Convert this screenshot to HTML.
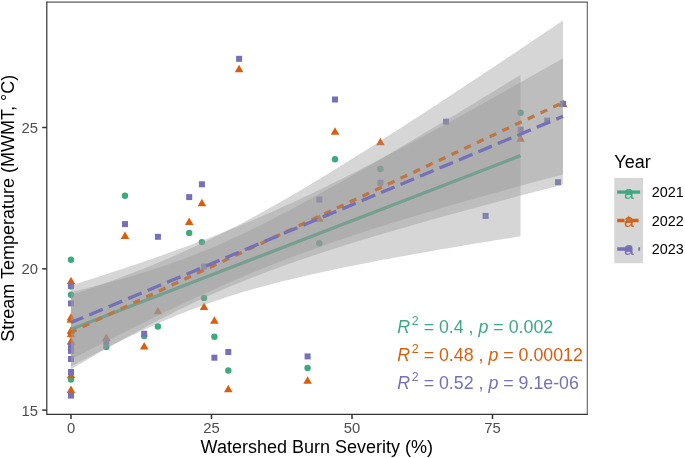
<!DOCTYPE html>
<html><head><meta charset="utf-8"><title>Stream Temperature vs Watershed Burn Severity</title>
<style>
html,body{margin:0;padding:0;background:#fff;}
body{width:685px;height:458px;overflow:hidden;}
svg{display:block;font-family:"Liberation Sans",Arial,Helvetica,sans-serif;opacity:0.999;will-change:transform;}
</style></head><body>
<svg width="685" height="458" viewBox="0 0 685 458">
<rect width="685" height="458" fill="#fff"/>
<g>
<circle cx="71.0" cy="259.7" r="3.20" fill="#3caa80"/>
<circle cx="71.0" cy="286.4" r="3.20" fill="#3caa80"/>
<circle cx="71.0" cy="294.8" r="3.20" fill="#3caa80"/>
<circle cx="71.0" cy="334.2" r="3.20" fill="#3caa80"/>
<circle cx="71.0" cy="349.5" r="3.20" fill="#3caa80"/>
<circle cx="71.0" cy="379.6" r="3.20" fill="#3caa80"/>
<circle cx="106.3" cy="346.9" r="3.20" fill="#3caa80"/>
<circle cx="125.0" cy="195.8" r="3.20" fill="#3caa80"/>
<circle cx="144.2" cy="336.1" r="3.20" fill="#3caa80"/>
<circle cx="157.9" cy="326.5" r="3.20" fill="#3caa80"/>
<circle cx="189.2" cy="232.9" r="3.20" fill="#3caa80"/>
<circle cx="201.9" cy="242.1" r="3.20" fill="#3caa80"/>
<circle cx="204.0" cy="297.9" r="3.20" fill="#3caa80"/>
<circle cx="214.4" cy="336.8" r="3.20" fill="#3caa80"/>
<circle cx="228.3" cy="370.5" r="3.20" fill="#3caa80"/>
<circle cx="307.6" cy="368.0" r="3.20" fill="#3caa80"/>
<circle cx="319.3" cy="243.2" r="3.20" fill="#3caa80"/>
<circle cx="335.0" cy="159.3" r="3.20" fill="#3caa80"/>
<circle cx="380.4" cy="169.0" r="3.20" fill="#3caa80"/>
<circle cx="520.6" cy="112.8" r="3.20" fill="#3caa80"/>
<path d="M71.00,276.87 L75.31,284.33 L66.69,284.33Z" fill="#d95f0e"/>
<path d="M71.00,312.97 L75.31,320.43 L66.69,320.43Z" fill="#d95f0e"/>
<path d="M71.00,315.17 L75.31,322.63 L66.69,322.63Z" fill="#d95f0e"/>
<path d="M71.00,326.37 L75.31,333.83 L66.69,333.83Z" fill="#d95f0e"/>
<path d="M71.00,329.77 L75.31,337.23 L66.69,337.23Z" fill="#d95f0e"/>
<path d="M71.00,337.07 L75.31,344.53 L66.69,344.53Z" fill="#d95f0e"/>
<path d="M71.00,370.77 L75.31,378.23 L66.69,378.23Z" fill="#d95f0e"/>
<path d="M71.00,385.47 L75.31,392.93 L66.69,392.93Z" fill="#d95f0e"/>
<path d="M106.30,333.57 L110.61,341.03 L101.99,341.03Z" fill="#d95f0e"/>
<path d="M125.00,231.47 L129.31,238.93 L120.69,238.93Z" fill="#d95f0e"/>
<path d="M144.20,341.97 L148.51,349.43 L139.89,349.43Z" fill="#d95f0e"/>
<path d="M157.90,306.67 L162.21,314.13 L153.59,314.13Z" fill="#d95f0e"/>
<path d="M189.20,217.57 L193.51,225.03 L184.89,225.03Z" fill="#d95f0e"/>
<path d="M201.90,198.87 L206.21,206.33 L197.59,206.33Z" fill="#d95f0e"/>
<path d="M204.00,302.57 L208.31,310.03 L199.69,310.03Z" fill="#d95f0e"/>
<path d="M214.40,316.27 L218.71,323.73 L210.09,323.73Z" fill="#d95f0e"/>
<path d="M228.30,384.77 L232.61,392.23 L223.99,392.23Z" fill="#d95f0e"/>
<path d="M239.10,64.87 L243.41,72.33 L234.79,72.33Z" fill="#d95f0e"/>
<path d="M307.60,376.27 L311.91,383.73 L303.29,383.73Z" fill="#d95f0e"/>
<path d="M319.30,214.17 L323.61,221.63 L314.99,221.63Z" fill="#d95f0e"/>
<path d="M335.00,127.37 L339.31,134.83 L330.69,134.83Z" fill="#d95f0e"/>
<path d="M380.40,137.87 L384.71,145.33 L376.09,145.33Z" fill="#d95f0e"/>
<path d="M520.60,134.27 L524.91,141.73 L516.29,141.73Z" fill="#d95f0e"/>
<path d="M563.10,99.47 L567.41,106.93 L558.79,106.93Z" fill="#d95f0e"/>
<rect x="68.00" y="282.80" width="6.00" height="6.00" fill="#7570b8"/>
<rect x="68.00" y="300.40" width="6.00" height="6.00" fill="#7570b8"/>
<rect x="68.00" y="342.70" width="6.00" height="6.00" fill="#7570b8"/>
<rect x="68.00" y="347.90" width="6.00" height="6.00" fill="#7570b8"/>
<rect x="68.00" y="356.00" width="6.00" height="6.00" fill="#7570b8"/>
<rect x="68.00" y="369.00" width="6.00" height="6.00" fill="#7570b8"/>
<rect x="68.00" y="392.60" width="6.00" height="6.00" fill="#7570b8"/>
<rect x="103.30" y="338.60" width="6.00" height="6.00" fill="#7570b8"/>
<rect x="122.00" y="221.10" width="6.00" height="6.00" fill="#7570b8"/>
<rect x="141.20" y="330.70" width="6.00" height="6.00" fill="#7570b8"/>
<rect x="154.90" y="233.80" width="6.00" height="6.00" fill="#7570b8"/>
<rect x="186.20" y="194.10" width="6.00" height="6.00" fill="#7570b8"/>
<rect x="198.90" y="181.30" width="6.00" height="6.00" fill="#7570b8"/>
<rect x="201.00" y="263.50" width="6.00" height="6.00" fill="#7570b8"/>
<rect x="211.40" y="354.70" width="6.00" height="6.00" fill="#7570b8"/>
<rect x="225.30" y="349.00" width="6.00" height="6.00" fill="#7570b8"/>
<rect x="236.10" y="55.80" width="6.00" height="6.00" fill="#7570b8"/>
<rect x="304.60" y="353.40" width="6.00" height="6.00" fill="#7570b8"/>
<rect x="316.30" y="196.70" width="6.00" height="6.00" fill="#7570b8"/>
<rect x="332.00" y="96.50" width="6.00" height="6.00" fill="#7570b8"/>
<rect x="377.40" y="179.80" width="6.00" height="6.00" fill="#7570b8"/>
<rect x="443.10" y="118.70" width="6.00" height="6.00" fill="#7570b8"/>
<rect x="482.60" y="212.90" width="6.00" height="6.00" fill="#7570b8"/>
<rect x="517.60" y="126.60" width="6.00" height="6.00" fill="#7570b8"/>
<rect x="544.20" y="117.60" width="6.00" height="6.00" fill="#7570b8"/>
<rect x="555.00" y="179.20" width="6.00" height="6.00" fill="#7570b8"/>
<rect x="560.10" y="100.80" width="6.00" height="6.00" fill="#7570b8"/>
</g>
<path d="M71.0,292.1 L76.1,290.9 L81.1,289.6 L86.2,288.4 L91.2,287.1 L96.3,285.8 L101.3,284.5 L106.4,283.2 L111.4,281.8 L116.5,280.4 L121.5,279.0 L126.6,277.6 L131.6,276.1 L136.7,274.6 L141.7,273.1 L146.8,271.5 L151.8,269.9 L156.9,268.3 L161.9,266.6 L167.0,264.9 L172.0,263.1 L177.1,261.3 L182.1,259.5 L187.2,257.6 L192.2,255.6 L197.3,253.6 L202.3,251.6 L207.4,249.5 L212.4,247.4 L217.5,245.2 L222.5,243.0 L227.6,240.8 L232.6,238.5 L237.7,236.1 L242.7,233.7 L247.8,231.3 L252.8,228.9 L257.9,226.4 L262.9,223.9 L268.0,221.3 L273.0,218.8 L278.1,216.1 L283.1,213.5 L288.2,210.9 L293.2,208.2 L298.3,205.5 L303.3,202.7 L308.4,200.0 L313.4,197.2 L318.5,194.4 L323.5,191.6 L328.6,188.8 L333.6,186.0 L338.7,183.2 L343.7,180.3 L348.8,177.4 L353.8,174.5 L358.9,171.6 L363.9,168.7 L369.0,165.8 L374.0,162.9 L379.1,159.9 L384.1,157.0 L389.2,154.0 L394.2,151.1 L399.3,148.1 L404.3,145.1 L409.4,142.1 L414.4,139.1 L419.5,136.1 L424.5,133.1 L429.6,130.1 L434.6,127.1 L439.7,124.0 L444.7,121.0 L449.8,118.0 L454.8,114.9 L459.9,111.9 L464.9,108.8 L470.0,105.7 L475.0,102.7 L480.1,99.6 L485.1,96.5 L490.2,93.5 L495.2,90.4 L500.3,87.3 L505.3,84.2 L510.4,81.1 L515.4,78.0 L520.5,74.9 L520.5,236.3 L515.4,237.1 L510.4,237.9 L505.3,238.7 L500.3,239.5 L495.2,240.3 L490.2,241.2 L485.1,242.0 L480.1,242.8 L475.0,243.6 L470.0,244.5 L464.9,245.3 L459.9,246.2 L454.8,247.0 L449.8,247.9 L444.7,248.8 L439.7,249.6 L434.6,250.5 L429.6,251.4 L424.5,252.3 L419.5,253.2 L414.4,254.1 L409.4,255.0 L404.3,255.9 L399.3,256.8 L394.2,257.7 L389.2,258.7 L384.1,259.6 L379.1,260.6 L374.0,261.5 L369.0,262.5 L363.9,263.5 L358.9,264.5 L353.8,265.5 L348.8,266.5 L343.7,267.5 L338.7,268.6 L333.6,269.6 L328.6,270.7 L323.5,271.8 L318.5,272.9 L313.4,274.0 L308.4,275.1 L303.3,276.3 L298.3,277.5 L293.2,278.7 L288.2,279.9 L283.1,281.1 L278.1,282.4 L273.0,283.7 L268.0,285.0 L262.9,286.4 L257.9,287.8 L252.8,289.2 L247.8,290.7 L242.7,292.1 L237.7,293.7 L232.6,295.2 L227.6,296.8 L222.5,298.5 L217.5,300.2 L212.4,301.9 L207.4,303.7 L202.3,305.5 L197.3,307.4 L192.2,309.3 L187.2,311.3 L182.1,313.3 L177.1,315.3 L172.0,317.4 L167.0,319.5 L161.9,321.7 L156.9,324.0 L151.8,326.2 L146.8,328.5 L141.7,330.8 L136.7,333.2 L131.6,335.6 L126.6,338.1 L121.5,340.5 L116.5,343.0 L111.4,345.5 L106.4,348.1 L101.3,350.7 L96.3,353.3 L91.2,355.9 L86.2,358.5 L81.1,361.1 L76.1,363.8 L71.0,366.5Z" fill="#999999" fill-opacity="0.4"/>
<line x1="71" y1="329.3" x2="520.5" y2="155.6" stroke="#3caa80" stroke-width="3.3"/>
<path d="M71.0,295.1 L76.5,293.2 L82.1,291.3 L87.6,289.4 L93.1,287.4 L98.6,285.5 L104.2,283.5 L109.7,281.5 L115.2,279.5 L120.8,277.4 L126.3,275.3 L131.8,273.2 L137.3,271.1 L142.9,268.9 L148.4,266.7 L153.9,264.4 L159.4,262.1 L165.0,259.8 L170.5,257.5 L176.0,255.1 L181.6,252.6 L187.1,250.1 L192.6,247.6 L198.1,245.0 L203.7,242.4 L209.2,239.8 L214.7,237.1 L220.3,234.3 L225.8,231.6 L231.3,228.7 L236.8,225.9 L242.4,222.9 L247.9,220.0 L253.4,217.0 L259.0,214.0 L264.5,210.9 L270.0,207.8 L275.5,204.7 L281.1,201.6 L286.6,198.4 L292.1,195.2 L297.7,191.9 L303.2,188.7 L308.7,185.4 L314.2,182.1 L319.8,178.7 L325.3,175.4 L330.8,172.0 L336.3,168.6 L341.9,165.2 L347.4,161.8 L352.9,158.3 L358.5,154.8 L364.0,151.4 L369.5,147.9 L375.0,144.4 L380.6,140.9 L386.1,137.3 L391.6,133.8 L397.2,130.3 L402.7,126.7 L408.2,123.1 L413.7,119.6 L419.3,116.0 L424.8,112.4 L430.3,108.8 L435.9,105.2 L441.4,101.5 L446.9,97.9 L452.4,94.3 L458.0,90.6 L463.5,87.0 L469.0,83.3 L474.6,79.7 L480.1,76.0 L485.6,72.3 L491.1,68.7 L496.7,65.0 L502.2,61.3 L507.7,57.6 L513.2,53.9 L518.8,50.2 L524.3,46.5 L529.8,42.8 L535.4,39.1 L540.9,35.3 L546.4,31.6 L551.9,27.9 L557.5,24.1 L563.0,20.4 L563.0,184.6 L557.5,186.0 L551.9,187.4 L546.4,188.9 L540.9,190.3 L535.4,191.8 L529.8,193.2 L524.3,194.6 L518.8,196.1 L513.2,197.6 L507.7,199.0 L502.2,200.5 L496.7,202.0 L491.1,203.4 L485.6,204.9 L480.1,206.4 L474.6,207.9 L469.0,209.4 L463.5,210.9 L458.0,212.4 L452.4,214.0 L446.9,215.5 L441.4,217.0 L435.9,218.6 L430.3,220.1 L424.8,221.7 L419.3,223.2 L413.7,224.8 L408.2,226.4 L402.7,228.0 L397.2,229.6 L391.6,231.2 L386.1,232.8 L380.6,234.5 L375.0,236.1 L369.5,237.8 L364.0,239.5 L358.5,241.1 L352.9,242.8 L347.4,244.6 L341.9,246.3 L336.3,248.0 L330.8,249.8 L325.3,251.6 L319.8,253.4 L314.2,255.2 L308.7,257.1 L303.2,258.9 L297.7,260.8 L292.1,262.8 L286.6,264.7 L281.1,266.7 L275.5,268.7 L270.0,270.7 L264.5,272.8 L259.0,274.9 L253.4,277.0 L247.9,279.2 L242.4,281.4 L236.8,283.7 L231.3,286.0 L225.8,288.3 L220.3,290.7 L214.7,293.1 L209.2,295.6 L203.7,298.1 L198.1,300.6 L192.6,303.2 L187.1,305.9 L181.6,308.5 L176.0,311.3 L170.5,314.0 L165.0,316.8 L159.4,319.7 L153.9,322.6 L148.4,325.5 L142.9,328.4 L137.3,331.4 L131.8,334.4 L126.3,337.5 L120.8,340.6 L115.2,343.7 L109.7,346.8 L104.2,349.9 L98.6,353.1 L93.1,356.3 L87.6,359.5 L82.1,362.8 L76.5,366.0 L71.0,369.3Z" fill="#999999" fill-opacity="0.4"/>
<line x1="71" y1="332.2" x2="563.0" y2="102.5" stroke="#d95f0e" stroke-width="3.3" stroke-dasharray="7.37 6.67" stroke-dashoffset="1.3"/>
<path d="M71.0,285.6 L76.5,283.8 L82.1,282.1 L87.6,280.3 L93.1,278.5 L98.6,276.7 L104.2,274.9 L109.7,273.1 L115.2,271.3 L120.8,269.5 L126.3,267.6 L131.8,265.8 L137.3,263.9 L142.9,262.0 L148.4,260.1 L153.9,258.2 L159.4,256.2 L165.0,254.3 L170.5,252.3 L176.0,250.3 L181.6,248.3 L187.1,246.3 L192.6,244.2 L198.1,242.1 L203.7,240.0 L209.2,237.9 L214.7,235.7 L220.3,233.6 L225.8,231.3 L231.3,229.1 L236.8,226.9 L242.4,224.6 L247.9,222.2 L253.4,219.9 L259.0,217.5 L264.5,215.1 L270.0,212.7 L275.5,210.3 L281.1,207.8 L286.6,205.3 L292.1,202.7 L297.7,200.2 L303.2,197.6 L308.7,195.0 L314.2,192.3 L319.8,189.7 L325.3,187.0 L330.8,184.3 L336.3,181.5 L341.9,178.8 L347.4,176.0 L352.9,173.2 L358.5,170.4 L364.0,167.6 L369.5,164.7 L375.0,161.9 L380.6,159.0 L386.1,156.1 L391.6,153.2 L397.2,150.3 L402.7,147.3 L408.2,144.4 L413.7,141.4 L419.3,138.5 L424.8,135.5 L430.3,132.5 L435.9,129.5 L441.4,126.5 L446.9,123.4 L452.4,120.4 L458.0,117.4 L463.5,114.3 L469.0,111.3 L474.6,108.2 L480.1,105.1 L485.6,102.0 L491.1,98.9 L496.7,95.8 L502.2,92.7 L507.7,89.6 L513.2,86.5 L518.8,83.4 L524.3,80.3 L529.8,77.1 L535.4,74.0 L540.9,70.8 L546.4,67.7 L551.9,64.5 L557.5,61.4 L563.0,58.2 L563.0,174.4 L557.5,175.9 L551.9,177.3 L546.4,178.8 L540.9,180.3 L535.4,181.8 L529.8,183.3 L524.3,184.8 L518.8,186.3 L513.2,187.8 L507.7,189.3 L502.2,190.9 L496.7,192.4 L491.1,193.9 L485.6,195.5 L480.1,197.0 L474.6,198.6 L469.0,200.2 L463.5,201.7 L458.0,203.3 L452.4,204.9 L446.9,206.5 L441.4,208.1 L435.9,209.7 L430.3,211.4 L424.8,213.0 L419.3,214.7 L413.7,216.3 L408.2,218.0 L402.7,219.7 L397.2,221.4 L391.6,223.1 L386.1,224.8 L380.6,226.6 L375.0,228.3 L369.5,230.1 L364.0,231.9 L358.5,233.7 L352.9,235.5 L347.4,237.4 L341.9,239.3 L336.3,241.1 L330.8,243.0 L325.3,245.0 L319.8,246.9 L314.2,248.9 L308.7,250.9 L303.2,252.9 L297.7,255.0 L292.1,257.0 L286.6,259.1 L281.1,261.3 L275.5,263.4 L270.0,265.6 L264.5,267.8 L259.0,270.0 L253.4,272.3 L247.9,274.6 L242.4,276.9 L236.8,279.3 L231.3,281.6 L225.8,284.0 L220.3,286.5 L214.7,288.9 L209.2,291.4 L203.7,293.9 L198.1,296.5 L192.6,299.0 L187.1,301.6 L181.6,304.2 L176.0,306.8 L170.5,309.4 L165.0,312.1 L159.4,314.8 L153.9,317.5 L148.4,320.2 L142.9,322.9 L137.3,325.7 L131.8,328.4 L126.3,331.2 L120.8,334.0 L115.2,336.8 L109.7,339.6 L104.2,342.4 L98.6,345.3 L93.1,348.1 L87.6,351.0 L82.1,353.8 L76.5,356.7 L71.0,359.6Z" fill="#999999" fill-opacity="0.4"/>
<line x1="71" y1="322.6" x2="563.0" y2="116.3" stroke="#7570b8" stroke-width="3.3" stroke-dasharray="14.6 6.5" stroke-dashoffset="1.3"/>
<path d="M46.8,2.1 H587.3 V414.4" fill="none" stroke="#5e5e5e" stroke-width="1.1"/>
<path d="M46.8,1.6 V414.4 H587.8" fill="none" stroke="#333" stroke-width="1.2"/>
<line x1="42.2" y1="127.5" x2="46.8" y2="127.5" stroke="#333" stroke-width="1.5"/>
<line x1="42.2" y1="268.8" x2="46.8" y2="268.8" stroke="#333" stroke-width="1.5"/>
<line x1="42.2" y1="410.1" x2="46.8" y2="410.1" stroke="#333" stroke-width="1.5"/>
<line x1="71.0" y1="414.4" x2="71.0" y2="419.0" stroke="#333" stroke-width="1.5"/>
<line x1="211.5" y1="414.4" x2="211.5" y2="419.0" stroke="#333" stroke-width="1.5"/>
<line x1="352.0" y1="414.4" x2="352.0" y2="419.0" stroke="#333" stroke-width="1.5"/>
<line x1="492.5" y1="414.4" x2="492.5" y2="419.0" stroke="#333" stroke-width="1.5"/>
<text transform="translate(38.0,132.9) scale(1,1.000)" font-size="14.8" fill="#4d4d4d" text-anchor="end">25</text>
<text transform="translate(38.0,274.2) scale(1,1.000)" font-size="14.8" fill="#4d4d4d" text-anchor="end">20</text>
<text transform="translate(38.0,415.5) scale(1,1.000)" font-size="14.8" fill="#4d4d4d" text-anchor="end">15</text>
<text transform="translate(71.0,433.4) scale(1,1.000)" font-size="14.8" fill="#4d4d4d" text-anchor="middle">0</text>
<text transform="translate(211.5,433.4) scale(1,1.000)" font-size="14.8" fill="#4d4d4d" text-anchor="middle">25</text>
<text transform="translate(352.0,433.4) scale(1,1.000)" font-size="14.8" fill="#4d4d4d" text-anchor="middle">50</text>
<text transform="translate(492.5,433.4) scale(1,1.000)" font-size="14.8" fill="#4d4d4d" text-anchor="middle">75</text>
<text transform="translate(316.8,452.9) scale(1,1.000)" font-size="18" fill="#000" text-anchor="middle">Watershed Burn Severity (%)</text>
<text transform="translate(14.4,208.2) scale(1,1.000) rotate(-90)" font-size="18" fill="#000" text-anchor="middle">Stream Temperature (MWMT, °C)</text>
<text transform="translate(397.3,332.8) scale(1,1.000)" font-size="17.8" fill="#3caa80"><tspan font-style="italic">R</tspan><tspan dx="1.6" dy="-7.6" font-size="12.5">2</tspan><tspan dy="7.6"> = 0.4 , </tspan><tspan font-style="italic">p</tspan><tspan> = 0.002</tspan></text>
<text transform="translate(397.3,360.5) scale(1,1.000)" font-size="17.8" fill="#d95f0e"><tspan font-style="italic">R</tspan><tspan dx="1.6" dy="-7.6" font-size="12.5">2</tspan><tspan dy="7.6"> = 0.48 , </tspan><tspan font-style="italic">p</tspan><tspan> = 0.00012</tspan></text>
<text transform="translate(397.3,388.6) scale(1,1.000)" font-size="17.8" fill="#7570b8"><tspan font-style="italic">R</tspan><tspan dx="1.6" dy="-7.6" font-size="12.5">2</tspan><tspan dy="7.6"> = 0.52 , </tspan><tspan font-style="italic">p</tspan><tspan> = 9.1e-06</tspan></text>
<text transform="translate(614.3,167.5) scale(1,1.000)" font-size="18" fill="#000">Year</text>
<circle cx="628.6" cy="192.1" r="3.20" fill="#3caa80"/>
<path d="M628.65,215.61 L632.96,223.08 L624.34,223.08Z" fill="#d95f0e"/>
<rect x="625.65" y="245.98" width="6.00" height="6.00" fill="#7570b8"/>
<rect x="614.3" y="177.90" width="28.7" height="85.29" fill="#999999" fill-opacity="0.4"/>
<line x1="617.2" y1="192.1" x2="640.1" y2="192.1" stroke="#3caa80" stroke-width="3.3"/>
<text transform="translate(629.0,198.5) scale(1,1.000)" font-size="17.8" fill="#3caa80" text-anchor="middle">a</text>
<text transform="translate(651.8,197.1) scale(1,1.000)" font-size="14.4" fill="#000">2021</text>
<line x1="617.2" y1="220.5" x2="640.1" y2="220.5" stroke="#d95f0e" stroke-width="3.3" stroke-dasharray="7.37 6.67"/>
<text transform="translate(629.0,226.9) scale(1,1.000)" font-size="17.8" fill="#d95f0e" text-anchor="middle">a</text>
<text transform="translate(651.8,225.5) scale(1,1.000)" font-size="14.4" fill="#000">2022</text>
<line x1="617.2" y1="249.0" x2="640.1" y2="249.0" stroke="#7570b8" stroke-width="3.3" stroke-dasharray="14.6 6.5"/>
<text transform="translate(629.0,255.4) scale(1,1.000)" font-size="17.8" fill="#7570b8" text-anchor="middle">a</text>
<text transform="translate(651.8,254.0) scale(1,1.000)" font-size="14.4" fill="#000">2023</text>
</svg></body></html>
